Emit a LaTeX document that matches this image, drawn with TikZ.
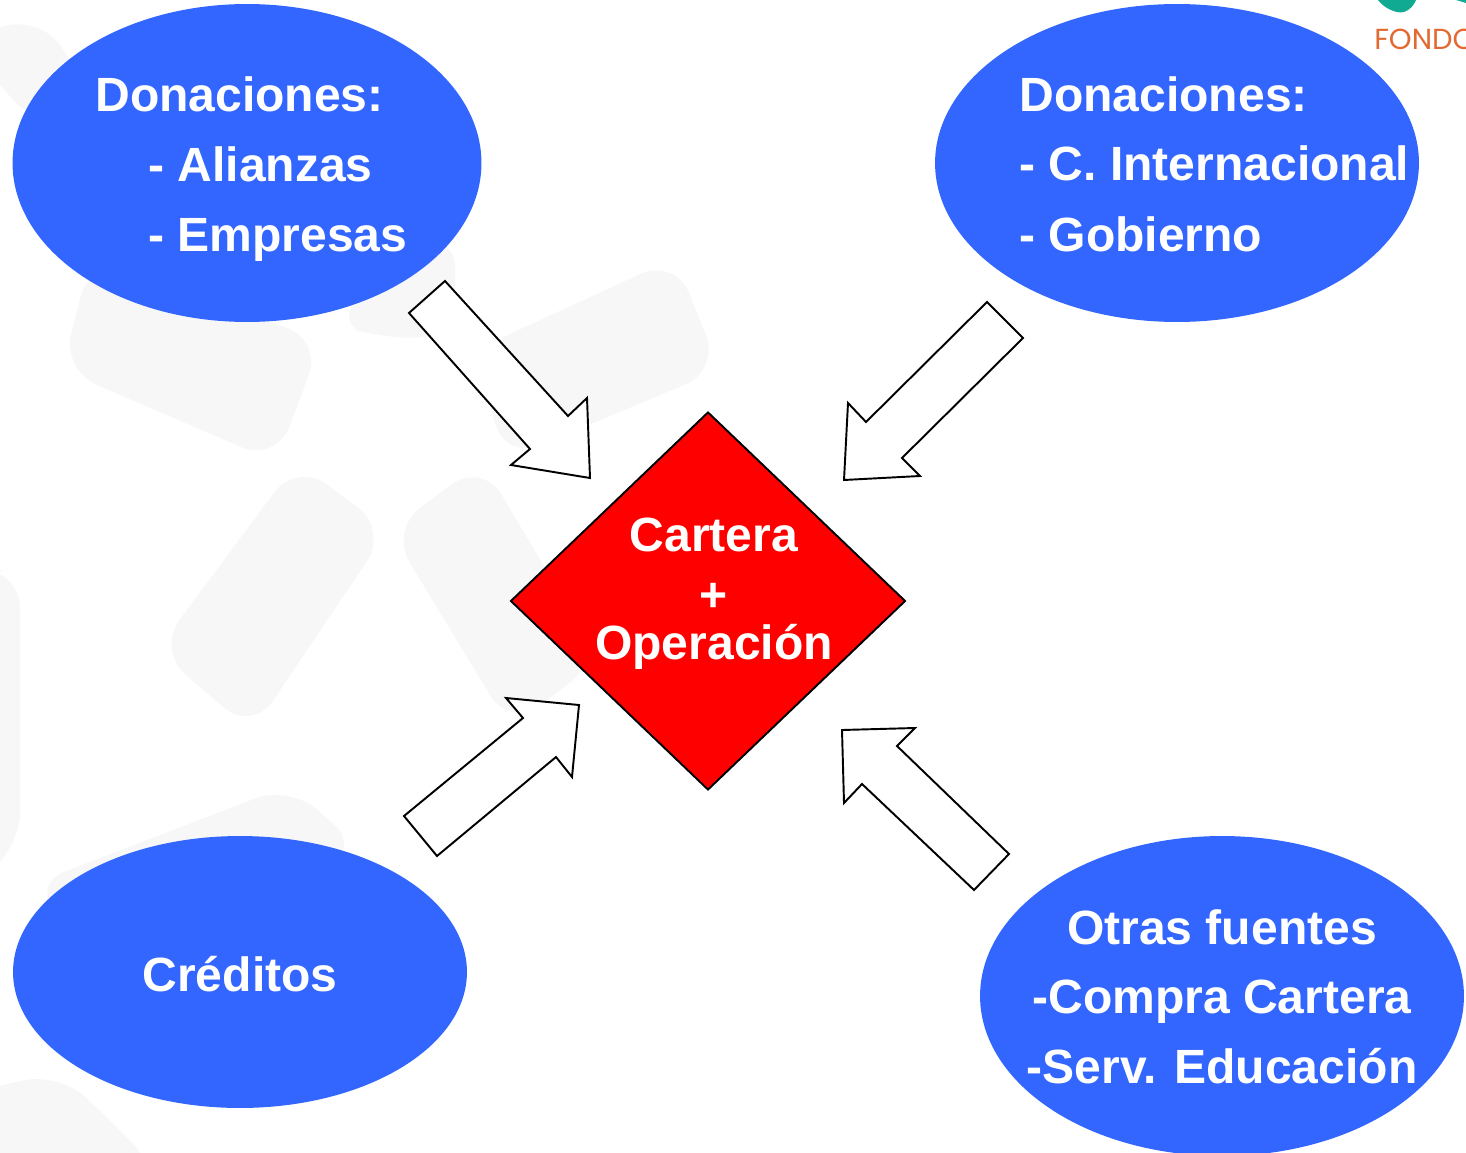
\documentclass[tikz,border=0pt]{standalone}
\usepackage{fontspec}
\setmainfont{Liberation Sans}
\newfontfamily\logofont{Poppins}
\usetikzlibrary{shapes.geometric}
\definecolor{fondoblue}{RGB}{51,102,255}
\definecolor{markgray}{RGB}{247,247,247}
\definecolor{logoorange}{RGB}{226,106,50}
\definecolor{logogreen}{RGB}{15,170,145}

\begin{document}
\begin{tikzpicture}[
  x=0.02cm,y=-0.02cm,
  font=\fontsize{27.35}{32}\selectfont\bfseries,
  source/.style={ellipse,fill=fondoblue,inner sep=0pt},
  hub/.style={diamond,draw=black,fill=red,inner sep=0pt,line width=1.1pt},
  itemtext/.style={text=white,anchor=base west,inner sep=0pt},
  midtext/.style={text=white,anchor=base,inner sep=0pt},
  flowarrow/.style={draw=black,fill=white,line width=1.1pt,miter limit=10},
  watermark/.style={fill=markgray,rounded corners=0.75cm}]

  \useasboundingbox (0,0) rectangle (1466,1152);

  % Watermark behind the diagram
  \fill[watermark] (62,370) -- (90,260) -- (322,340) -- (276,462) -- cycle;
  \fill[watermark] (475,350) -- (675,258) -- (720,370) -- (505,460) -- cycle;
  \fill[watermark] (297,462) -- (388,530) -- (252,732) -- (157,650) -- cycle;
  \fill[watermark] (482,462) -- (390,530) -- (510,728) -- (600,660) -- cycle;
  \fill[watermark] (-30,570) -- (20,570) -- (20,850) -- (-30,885) -- cycle;
  \fill[watermark] (30,885) -- (290,785) -- (362,850) -- (100,960) -- cycle;
  \fill[watermark] (-40,1095) -- (60,1072) -- (160,1170) -- (-40,1170) -- cycle;
  \fill[watermark] (-40,40) -- (40,15) -- (90,90) -- (40,130) -- cycle;
  \fill[watermark] (330,320) -- (455,230) -- (455,335) -- (380,340) -- cycle;

  % Logo cut by the page edge
  \node[anchor=base west,inner sep=0pt,text=logoorange,font=\logofont\fontsize{16.5}{20}\selectfont] (logo) at (1374,50) {FONDO};
  \fill[logogreen] (1378,0) .. controls (1384,8) and (1396,14) .. (1404,12) .. controls (1410,10) and (1414,5) .. (1416,0) -- cycle;
  \fill[logogreen] (1456,0) -- (1466,0) -- (1466,3) -- cycle;

  % Position the nodes at coordinates
  \node[source,minimum width=9.38cm,minimum height=6.36cm] (Alianzas) at (247,163) {};
  \node[source,minimum width=9.68cm,minimum height=6.36cm] (Internacional) at (1177,163) {};
  \node[source,minimum width=9.08cm,minimum height=5.44cm] (Creditos) at (240,972) {};
  \node[source,minimum width=9.68cm,minimum height=6.4cm] (Otras) at (1222,996) {};
  \node[hub,minimum width=7.9cm,minimum height=7.56cm] (Cartera) at (708,601) {};

  \node[itemtext] (DonA) at (95,112) {Donaciones:};
  \node[itemtext] (Ali) at (148,182) {- Alianzas};
  \node[itemtext] (Emp) at (148,251) {- Empresas};
  \node[itemtext] (DonB) at (1019,112) {Donaciones:};
  \node[itemtext] (CInt) at (1019,181) {- C. Internacional};
  \node[itemtext] (Gob) at (1019,251) {- Gobierno};
  \node[midtext] (Cre) at (240,991) {Créditos};
  \node[midtext] (Car) at (714,551) {Cartera};
  \node[midtext] (Mas) at (714,611) {+};
  \node[midtext] (Ope) at (714,659) {Operación};
  \node[midtext] (Otr) at (1222,944) {Otras fuentes};
  \node[midtext] (Com) at (1222,1013) {-Compra Cartera};
  \node[midtext] (Ser) at (1222,1083) {-Serv. Educación};

  % Block arrows pointing at the centre
  \draw[flowarrow] (445,281) -- (568,416) -- (587,398) -- (590,478) -- (511,465) -- (530,449) -- (409,313) -- cycle;
  \draw[flowarrow] (1023,338) -- (902,458) -- (920,476) -- (844,480) -- (848,403) -- (866,422) -- (987,302) -- cycle;
  \draw[flowarrow] (437,856) -- (556,757) -- (572,777) -- (579,705) -- (506,698) -- (523,718) -- (404,816) -- cycle;
  \draw[flowarrow] (1009,854) -- (897,746) -- (915,728) -- (842,730) -- (844,803) -- (862,784) -- (974,890) -- cycle;
\end{tikzpicture}
\end{document}
